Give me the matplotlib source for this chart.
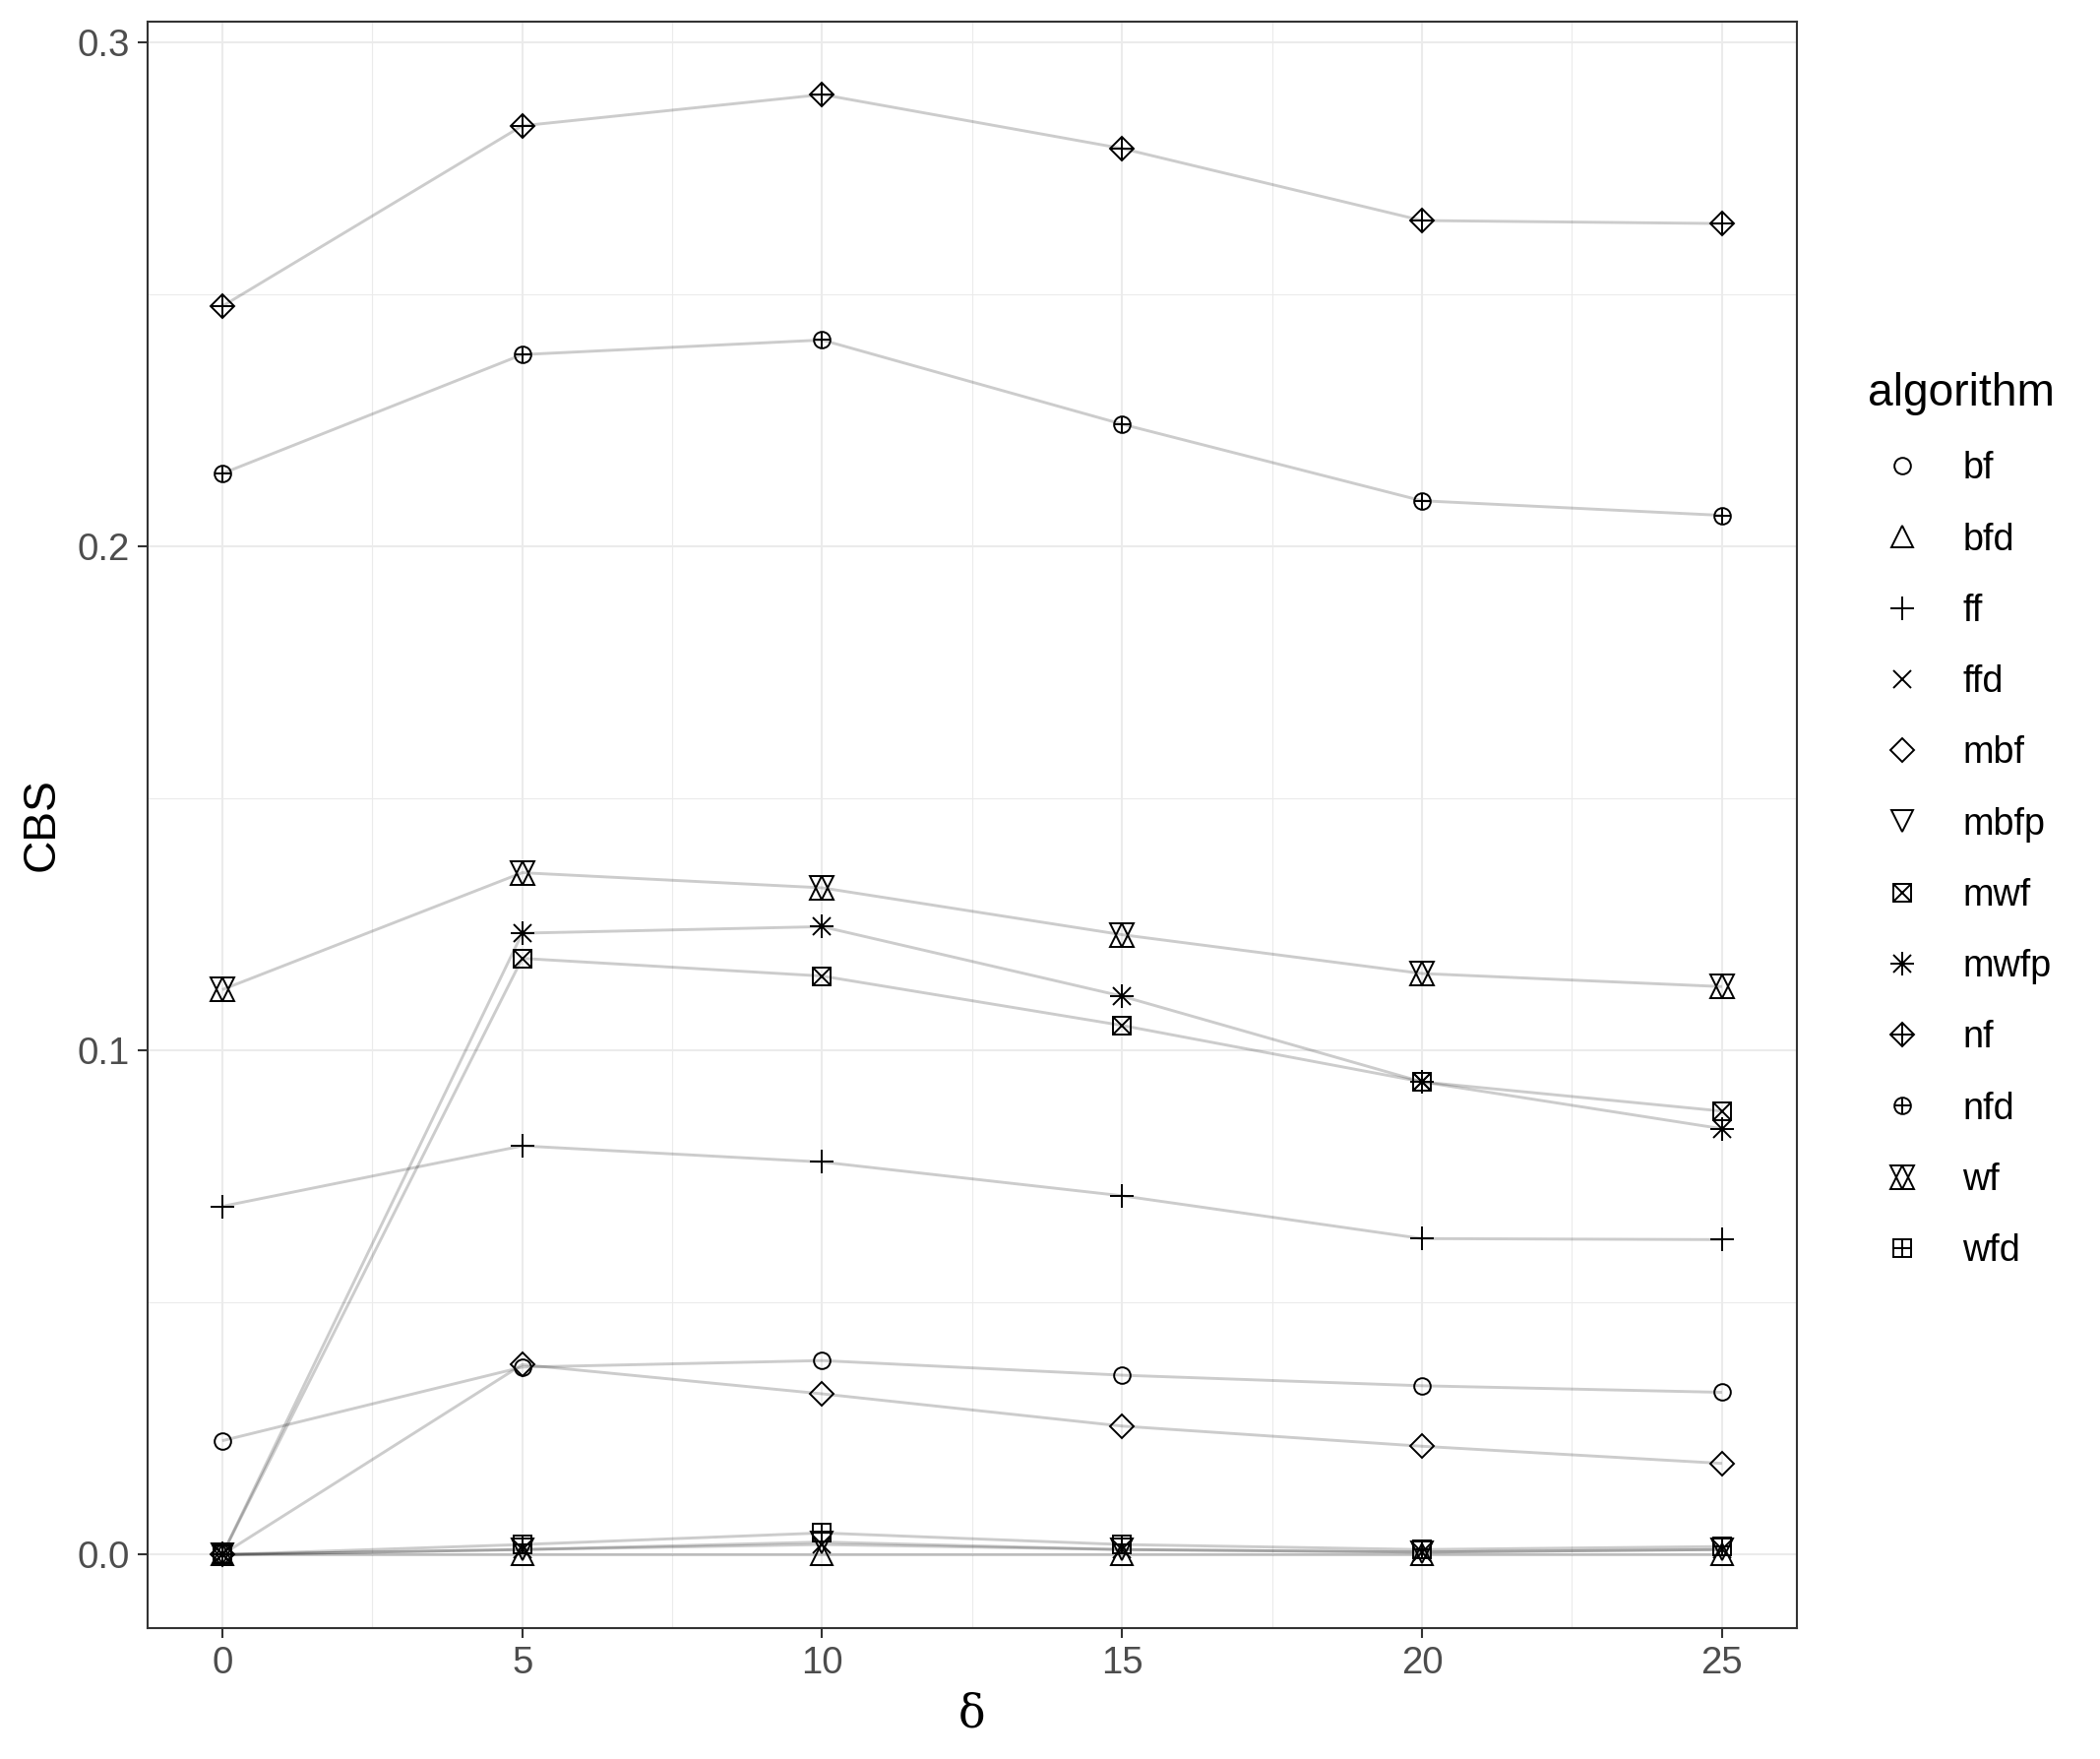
import matplotlib
matplotlib.use("Agg")
import matplotlib.pyplot as plt
from matplotlib.lines import Line2D
from matplotlib.ticker import MultipleLocator

plt.rcParams['font.family'] = ['Liberation Sans', 'DejaVu Sans']

delta = [0, 5, 10, 15, 20, 25]
algorithms = ["bf", "bfd", "ff", "ffd", "mbf", "mbfp", "mwf", "mwfp", "nf", "nfd", "wf", "wfd"]

bf   = [0.0226, 0.0372, 0.0385, 0.0356, 0.0335, 0.0322]
bfd  = [0.0, 0.0, 0.0, 0.0, 0.0, 0.0]
ff   = [0.0691, 0.0811, 0.0779, 0.0712, 0.0627, 0.0625]
ffd  = [0.0, 0.0010, 0.0020, 0.0010, 0.0005, 0.0010]
mbf  = [0.0, 0.0377, 0.0319, 0.0255, 0.0215, 0.0181]
mbfp = [0.0, 0.0010, 0.0025, 0.0010, 0.0005, 0.0010]
mwf  = [0.0, 0.1183, 0.1148, 0.1050, 0.0938, 0.0880]
mwfp = [0.0, 0.1233, 0.1246, 0.1108, 0.0938, 0.0845]
nf   = [0.2477, 0.2835, 0.2897, 0.2790, 0.2647, 0.2641]
nfd  = [0.2145, 0.2381, 0.2410, 0.2243, 0.2091, 0.2062]
wf   = [0.1121, 0.1353, 0.1323, 0.1230, 0.1153, 0.1127]
wfd  = [0.0, 0.0020, 0.0043, 0.0020, 0.0010, 0.0016]

series = {"bf": bf, "bfd": bfd, "ff": ff, "ffd": ffd, "mbf": mbf, "mbfp": mbfp,
          "mwf": mwf, "mwfp": mwfp, "nf": nf, "nfd": nfd, "wf": wf, "wfd": wfd}

# ggplot-like composite shapes: list of (marker, markersize)
shapes = {
    "bf":   [("o", 6.0)],
    "bfd":  [("^", 8.2)],
    "ff":   [("+", 8.6)],
    "ffd":  [("x", 6.4)],
    "mbf":  [("D", 6.2)],
    "mbfp": [("v", 8.2)],
    "mwf":  [("s", 6.6), ("x", 6.6)],
    "mwfp": [("+", 8.6), ("x", 6.4)],
    "nf":   [("D", 6.2), ("+", 8.7)],
    "nfd":  [("o", 6.0), ("+", 6.0)],
    "wf":   [("^", 8.6), ("v", 8.6)],
    "wfd":  [("s", 6.6), ("+", 6.6)],
}

W, H, DPI = 2134, 1787, 200
fig = plt.figure(figsize=(W / DPI, H / DPI), dpi=DPI)
ax = fig.add_axes([149.7 / W, 1 - 1653.6 / H, (1826 - 149.7) / W, (1653.6 - 21.8) / H])

mew = 0.7
for name in algorithms:
    ax.plot(delta, series[name], color="black", alpha=0.2, lw=1.05, zorder=2,
            solid_capstyle="butt")
handles = []
for name in algorithms:
    parts = []
    for mk, ms in shapes[name]:
        ax.plot(delta, series[name], linestyle="none", marker=mk, markersize=ms,
                markerfacecolor="none", markeredgecolor="black", markeredgewidth=mew,
                zorder=3)
        parts.append(Line2D([], [], linestyle="none", marker=mk, markersize=ms,
                            markerfacecolor="none", markeredgecolor="black",
                            markeredgewidth=mew))
    handles.append(tuple(parts))

ax.set_xlim(-1.25, 26.25)
ax.set_ylim(-0.0145, 0.3042)
ax.xaxis.set_major_locator(MultipleLocator(5))
ax.xaxis.set_minor_locator(MultipleLocator(2.5))
ax.set_yticks([0.0, 0.1, 0.2, 0.3])
ax.set_yticklabels(["0.0", "0.1", "0.2", "0.3"])
ax.yaxis.set_minor_locator(MultipleLocator(0.05))

ax.grid(which="major", color="#ebebeb", lw=0.75, zorder=0)
ax.grid(which="minor", color="#ebebeb", lw=0.4, zorder=0)
ax.set_axisbelow(True)
for sp in ax.spines.values():
    sp.set_color("#333333")
    sp.set_linewidth(0.75)
ax.tick_params(which="major", length=3.5, width=0.75, color="#333333",
               labelcolor="#4d4d4d", labelsize=13.8, pad=3)
ax.tick_params(which="minor", length=0)

ax.set_ylabel("CBS", fontsize=16.6, labelpad=5)
ax.set_xlabel("δ", fontsize=16.5, family=["DejaVu Serif"], labelpad=4)

leg = fig.legend(handles, algorithms, loc="upper left",
                 bbox_to_anchor=(1898 / W, 1 - 378 / H), frameon=False,
                 fontsize=13.6, title="algorithm", title_fontsize=16.6,
                 handlelength=1.85, handletextpad=0.7, labelspacing=0.96,
                 borderpad=0, borderaxespad=0, alignment="left")

fig.savefig("out.png", dpi=DPI, facecolor="white")
